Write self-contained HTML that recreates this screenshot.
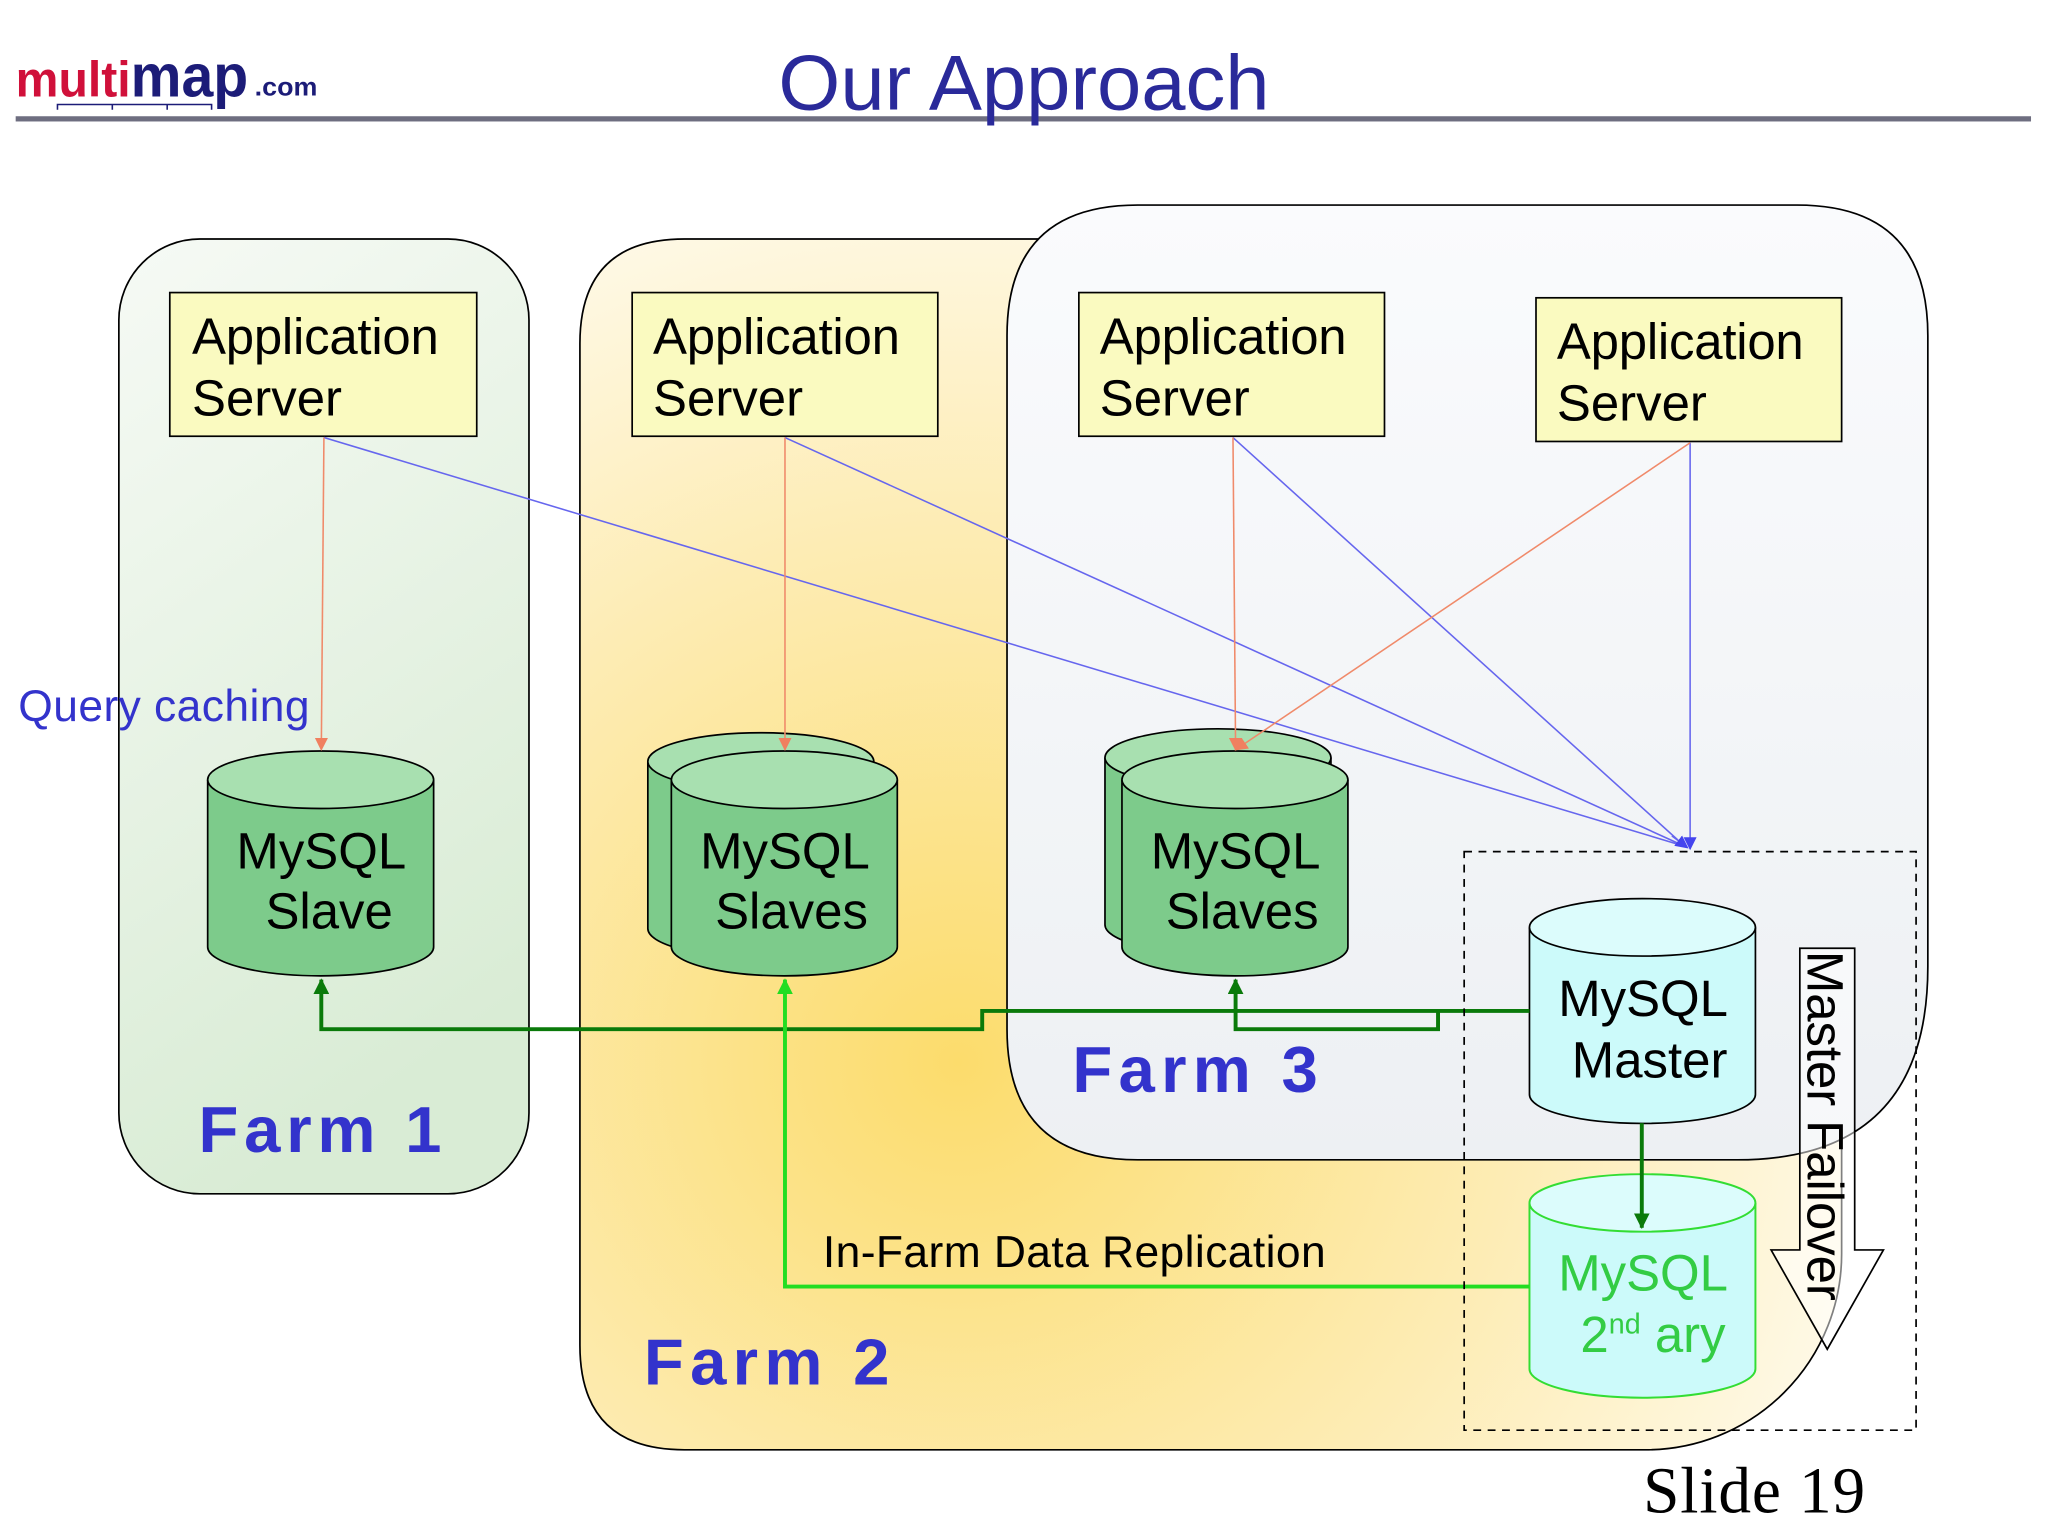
<!DOCTYPE html>
<html><head><meta charset="utf-8"><style>html,body{margin:0;padding:0;background:#fff}svg{display:block}</style></head><body>
<svg width="2048" height="1536" viewBox="0 0 1568 1176" xmlns="http://www.w3.org/2000/svg" font-family="Liberation Sans, sans-serif">
<defs>
<linearGradient id="g1" x1="0" y1="0" x2="0.3" y2="1"><stop offset="0" stop-color="#f6faf5"/><stop offset="1" stop-color="#d9ecd5"/></linearGradient>
<radialGradient id="g2" cx="0.3" cy="0.68" r="0.8"><stop offset="0" stop-color="#fcdc6c"/><stop offset="0.55" stop-color="#fdecb4"/><stop offset="1" stop-color="#fffcf2"/></radialGradient>
<linearGradient id="g3" x1="0" y1="0" x2="0" y2="1"><stop offset="0" stop-color="#fafbfd"/><stop offset="1" stop-color="#edf0f3"/></linearGradient>
<marker id="ab" markerWidth="10" markerHeight="10" refX="9" refY="5" orient="auto" markerUnits="userSpaceOnUse"><path d="M0,0 L10,5 L0,10z" fill="#4444ee"/></marker>
<marker id="ao" markerWidth="10" markerHeight="10" refX="9" refY="5" orient="auto" markerUnits="userSpaceOnUse"><path d="M0,0 L10,5 L0,10z" fill="#f08060"/></marker>
<marker id="ag" markerWidth="12" markerHeight="12" refX="11" refY="6" orient="auto" markerUnits="userSpaceOnUse"><path d="M0,0 L12,6 L0,12z" fill="#0a7a0a"/></marker>
<marker id="al" markerWidth="12" markerHeight="12" refX="11" refY="6" orient="auto" markerUnits="userSpaceOnUse"><path d="M0,0 L12,6 L0,12z" fill="#22dd22"/></marker>
</defs>
<!-- header -->
<text x="12" y="74" font-size="38" font-weight="bold" fill="#d0103a" textLength="88" lengthAdjust="spacingAndGlyphs">multi</text>
<text x="100" y="74" font-size="46" font-weight="bold" fill="#1c1c78" textLength="90" lengthAdjust="spacingAndGlyphs">map</text>
<text x="195" y="73" font-size="20" font-weight="bold" fill="#1c1c78" textLength="48" lengthAdjust="spacingAndGlyphs">.com</text>
<path d="M44,84 V80 H162 V84 M86,80 V84 M128,80 V84" stroke="#1c1c78" fill="none" stroke-width="1.2"/>
<rect x="12" y="89" width="1543" height="4" fill="#6e6e80"/>
<text x="784" y="84" font-size="60" fill="#2a2a9a" text-anchor="middle" textLength="376" lengthAdjust="spacingAndGlyphs">Our Approach</text>
<!-- farms -->
<rect x="91" y="183" width="314" height="731" rx="62" fill="url(#g1)" stroke="#000" stroke-width="1.3"/>
<path d="M524,183 H1330 Q1410,183 1410,263 V960 A150,150 0 0 1 1260,1110 H524 Q444,1110 444,1030 V263 Q444,183 524,183z" fill="url(#g2)" stroke="#000" stroke-width="1.3"/>
<path d="M871,157 H1376 Q1476,157 1476,257 V740 Q1476,888 1330,888 H871 Q771,888 771,788 V257 Q771,157 871,157z" fill="url(#g3)" stroke="#000" stroke-width="1.3"/>
<text x="152" y="882" font-size="50" font-weight="bold" fill="#3333cc" textLength="186" lengthAdjust="spacing">Farm 1</text>
<text x="493" y="1060" font-size="50" font-weight="bold" fill="#3333cc" textLength="188" lengthAdjust="spacing">Farm 2</text>
<text x="821" y="836" font-size="50" font-weight="bold" fill="#3333cc" textLength="188" lengthAdjust="spacing">Farm 3</text>
<!-- app servers -->
<g fill="#fafac0" stroke="#000" stroke-width="1.3">
<rect x="130" y="224" width="235" height="110"/><rect x="484" y="224" width="234" height="110"/>
<rect x="826" y="224" width="234" height="110"/><rect x="1176" y="228" width="234" height="110"/>
</g>
<g font-size="39" fill="#000">
<text x="147" y="271" textLength="189">Application</text><text x="147" y="318">Server</text>
<text x="500" y="271" textLength="189">Application</text><text x="500" y="318">Server</text>
<text x="842" y="271" textLength="189">Application</text><text x="842" y="318">Server</text>
<text x="1192" y="275" textLength="189">Application</text><text x="1192" y="322">Server</text>
</g>
<!-- cylinders -->
<g stroke="#000" stroke-width="1.3">
<path d="M159,597 V725 A86,22 0 0 0 332,725 V597" fill="#7dcb8b"/><ellipse cx="245.5" cy="597" rx="86.5" ry="22" fill="#a8e0b0"/>
<path d="M496,583 V711 A86,22 0 0 0 669,711 V583" fill="#7dcb8b"/><ellipse cx="582.5" cy="583" rx="86.5" ry="22" fill="#a8e0b0"/>
<path d="M514,597 V725 A86,22 0 0 0 687,725 V597" fill="#7dcb8b"/><ellipse cx="600.5" cy="597" rx="86.5" ry="22" fill="#a8e0b0"/>
<path d="M846,580 V708 A86,22 0 0 0 1019,708 V580" fill="#7dcb8b"/><ellipse cx="932.5" cy="580" rx="86.5" ry="22" fill="#a8e0b0"/>
<path d="M859,597 V725 A86,22 0 0 0 1032,725 V597" fill="#7dcb8b"/><ellipse cx="945.5" cy="597" rx="86.5" ry="22" fill="#a8e0b0"/>
<path d="M1171,710 V838 A86,22 0 0 0 1344,838 V710" fill="#ccfafa"/><ellipse cx="1257.5" cy="710" rx="86.5" ry="22" fill="#dcfcfc"/>
</g>
<path d="M1171,921 V1048 A86,22 0 0 0 1344,1048 V921" fill="#ccfafa" stroke="#33dd33" stroke-width="1.5"/><ellipse cx="1257.5" cy="921" rx="86.5" ry="22" fill="#dcfcfc" stroke="#33dd33" stroke-width="1.5"/>
<g font-size="39" fill="#000" text-anchor="middle">
<text x="246" y="665">MySQL</text><text x="252" y="711">Slave</text>
<text x="601" y="665">MySQL</text><text x="606" y="711">Slaves</text>
<text x="946" y="665">MySQL</text><text x="951" y="711">Slaves</text>
<text x="1258" y="778">MySQL</text><text x="1263" y="825">Master</text>
</g>
<text x="1258" y="988" font-size="39" fill="#33cc44" text-anchor="middle">MySQL</text>
<text x="1210" y="1035" font-size="39" fill="#33cc44">2<tspan font-size="22" dy="-14">nd</tspan><tspan dy="14"> ary</tspan></text>
<!-- lines -->
<g stroke="#6666ee" stroke-width="1.2" fill="none">
<line x1="248" y1="335" x2="1290" y2="648"/><line x1="601" y1="335" x2="1290" y2="648"/>
<line x1="944" y1="335" x2="1290" y2="648"/><line x1="1294" y1="339" x2="1294" y2="650" marker-end="url(#ab)"/>
<line x1="1280" y1="640" x2="1292" y2="649" marker-end="url(#ab)"/>
</g>
<g stroke="#f08a6a" stroke-width="1.2" fill="none">
<line x1="248" y1="335" x2="246" y2="574" marker-end="url(#ao)"/><line x1="601" y1="335" x2="601" y2="574" marker-end="url(#ao)"/>
<line x1="944" y1="335" x2="946" y2="574" marker-end="url(#ao)"/><line x1="1294" y1="339" x2="946" y2="574" marker-end="url(#ao)"/>
</g>
<g stroke="#0a7a0a" stroke-width="3" fill="none">
<path d="M1171,774 H752 V788 H246 V750" marker-end="url(#ag)"/>
<path d="M1101,774 V788 H946 V750" marker-end="url(#ag)"/>
<path d="M1257,860 V940" marker-end="url(#ag)"/>
</g>
<path d="M1171,985 H601 V750" stroke="#22dd22" stroke-width="3" fill="none" marker-end="url(#al)"/>
<text x="630" y="970" font-size="34" fill="#000" textLength="385">In-Farm Data Replication</text>
<text x="14" y="552" font-size="34" fill="#3333cc" textLength="223">Query caching</text>
<!-- failover -->
<rect x="1121" y="652" width="346" height="443" fill="none" stroke="#000" stroke-width="1.3" stroke-dasharray="6,5"/>
<path d="M1378,726 H1420 V957 H1442 L1399,1033 L1356,957 H1378z" fill="#fff" fill-opacity="0.5" stroke="#000" stroke-width="1.3"/>
<text transform="translate(1384,728) rotate(90)" font-size="39" fill="#000" textLength="268">Master Failover</text>
<text x="1258" y="1158" font-size="50" font-family="Liberation Serif, serif" fill="#000" textLength="170">Slide 19</text>
</svg>
</body></html>
